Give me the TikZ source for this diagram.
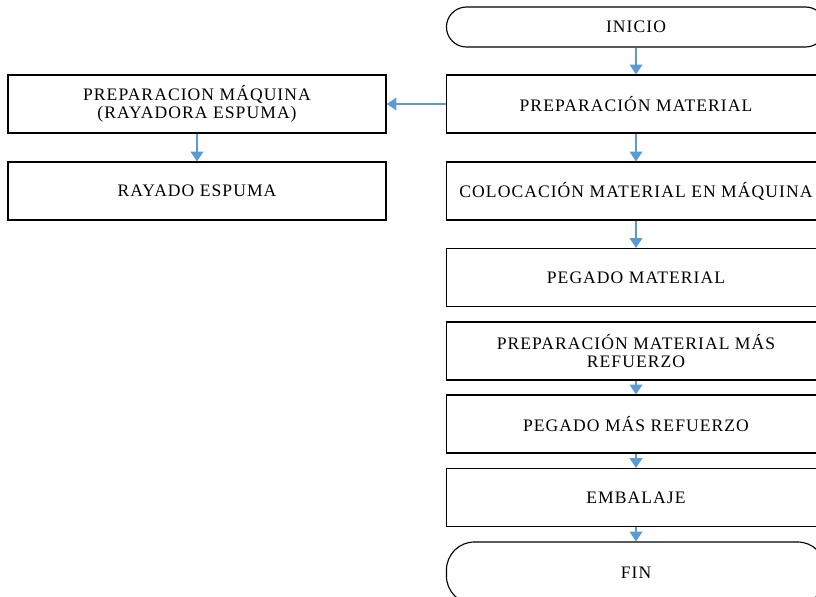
\documentclass[tikz,border=0pt]{standalone}
\usepackage{fontspec}
\setmainfont{Liberation Serif}[LetterSpace=6]
\usepackage{tikz}
\usetikzlibrary{arrows.meta}
\definecolor{azul}{RGB}{91,155,213}

\begin{document}
\begin{tikzpicture}[x = 0.025cm, y = -0.025cm,
    every node/.style = {font = \fontsize{12.5}{12.8}\selectfont, align = center},
    paso/.style = {draw, line width = 0.8pt, rectangle, minimum width = 9.475cm, minimum height = 1.45cm, inner sep = 0pt},
    terminal/.style = {draw, line width = 0.8pt, rectangle, rounded corners = 0.5cm, minimum width = 9.475cm, minimum height = 1cm},
    flecha/.style = {draw = azul, line width = 1.1pt, -{Triangle[width = 9pt, length = 7pt]}}]
            \clip (0,0) rectangle (816,597);
            % columna principal
            \node[terminal] (inicio) at (636,27) {INICIO};
            \node[paso] (prepmat) at (636,104) {PREPARACIÓN MATERIAL};
            \node[paso] (coloc) at (636,191) {COLOCACIÓN MATERIAL EN MÁQUINA};
            \node[paso] (pegado) at (636,277.5) {PEGADO MATERIAL};
            \node[paso] (prepref) at (636,351) {PREPARACIÓN MATERIAL MÁS\\REFUERZO};
            \node[paso] (pegref) at (636,424) {PEGADO MÁS REFUERZO};
            \node[paso] (embalaje) at (636,497.5) {EMBALAJE};
            \node[terminal, minimum height = 1.55cm, rounded corners = 0.7cm] (fin) at (636,573) {FIN};
            % rama de la maquina
            \node[paso, minimum width = 9.45cm] (prepmaq) at (197,104) {PREPARACION MÁQUINA\\(RAYADORA ESPUMA)};
            \node[paso, minimum width = 9.45cm] (rayado) at (197,191) {RAYADO ESPUMA};
            % flechas
            \draw[flecha] (inicio) -- (prepmat);
            \draw[flecha] (prepmat) -- (coloc);
            \draw[flecha] (coloc) -- (pegado);
            \draw[flecha] (prepref) -- (pegref);
            \draw[flecha] (pegref) -- (embalaje);
            \draw[flecha] (embalaje) -- (fin);
            \draw[flecha] (prepmat) -- (prepmaq);
            \draw[flecha] (prepmaq) -- (rayado);
\end{tikzpicture}
\end{document}
